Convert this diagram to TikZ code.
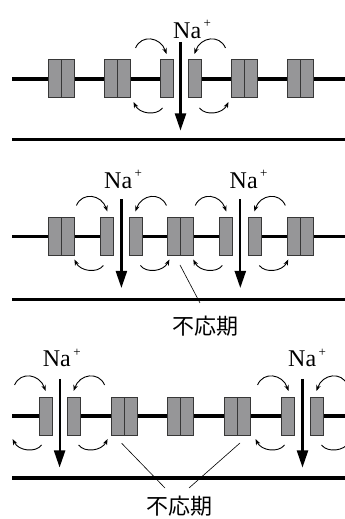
\documentclass[tikz,border=0pt]{standalone}
\usepackage{fontspec}
\setmainfont{Liberation Serif}
\newfontfamily\jpfont{Noto Sans CJK JP}
\usetikzlibrary{arrows.meta}

\definecolor{chanfill}{RGB}{150,150,152}
\definecolor{chanedge}{RGB}{55,55,55}

\tikzset{
  x=1pt, y=1pt,
  axon/.style={line width=3.6pt, black},
  membrane/.style={line width=3.6pt, black},
  chan/.style={draw=chanedge, fill=chanfill, line width=0.8pt,
    minimum width=13pt, minimum height=38pt, inner sep=0pt},
  hop/.style={line width=0.9pt, -{Stealth[length=6pt,width=4.5pt]}},
  flow/.style={line width=2.2pt, -{Triangle[length=17pt,width=11pt]}},
  pointer/.style={line width=0.6pt},
  ion/.style={anchor=base west, inner sep=0pt, font=\fontsize{24}{24}\selectfont},
  refr/.style={inner sep=0pt, font=\jpfont\fontsize{22}{22}\selectfont},
  % the fibre is broken where a gate is open
  opening/.pic={
    \fill[white] (-10,-2.6) rectangle (10,2.6);
  },
  % sodium influx at an open gate, with local current loops to either side
  gate/.pic={
    \draw[hop] (-45,31) .. controls +(6,14) and +(-6,17) .. (-14,25);
    \draw[hop] (45,31) .. controls +(-6,14) and +(6,17) .. (14,25);
    \draw[hop] (-18,-29) .. controls +(-6,-8) and +(6,-12) .. (-47,-23);
    \draw[hop] (19,-29) .. controls +(6,-8) and +(-6,-12) .. (48,-23);
    \draw[flow] (0,37) -- (0,-51.5);
  }
}

\newcommand{\naplus}{Na\kern2.5pt\raisebox{10.5pt}{\fontsize{13}{13}\selectfont+}}

\begin{document}
\begin{tikzpicture}
\clip (0,0) rectangle (345,519);
\fill[white] (0,0) rectangle (345,519);

% ---------- top: single active site ----------
\coordinate (a1w) at (12,440);
\coordinate (a1e) at (345,440);
\coordinate (m1w) at (12,379.5);
\coordinate (m1e) at (345,379.5);
\draw[axon] (a1w) -- (a1e);
\draw[membrane] (m1w) -- (m1e);
\pic at (180.5,440) {opening};
\node[chan] (t1a) at (54.5,441) {};
\node[chan] (t1b) at (67.5,441) {};
\node[chan] (t2a) at (110.5,441) {};
\node[chan] (t2b) at (123.5,441) {};
\node[chan] (t3) at (166.5,441) {};
\node[chan] (t4) at (194.5,441) {};
\node[chan] (t5a) at (238,441) {};
\node[chan] (t5b) at (251,441) {};
\node[chan] (t6a) at (293.5,441) {};
\node[chan] (t6b) at (306.5,441) {};
\pic at (180.5,440) {gate};
\node[ion] (na1) at (173,480.7) {\naplus};

% ---------- middle: two sites moving apart ----------
\coordinate (a2w) at (12,282.5);
\coordinate (a2e) at (345,282.5);
\coordinate (m2w) at (12,219.5);
\coordinate (m2e) at (345,219.5);
\draw[axon] (a2w) -- (a2e);
\draw[membrane] (m2w) -- (m2e);
\pic at (121.4,282.5) {opening};
\pic at (240.3,282.5) {opening};
\node[chan] (u1a) at (54.5,282.5) {};
\node[chan] (u1b) at (67.5,282.5) {};
\node[chan] (u2) at (106.7,282.5) {};
\node[chan] (u3) at (136,282.5) {};
\node[chan] (u4a) at (174.3,282.5) {};
\node[chan] (u4b) at (187.3,282.5) {};
\node[chan] (u5) at (225.8,282.5) {};
\node[chan] (u6) at (254.7,282.5) {};
\node[chan] (u7a) at (293.8,282.5) {};
\node[chan] (u7b) at (306.8,282.5) {};
\pic at (121.4,282.5) {gate};
\pic at (240.3,282.5) {gate};
\node[ion] (na2) at (104,330.7) {\naplus};
\node[ion] (na3) at (229.5,330.7) {\naplus};
\node[refr] (rf1) at (205,193) {不応期};
\coordinate (p1s) at (180,254);
\coordinate (p1e) at (200,216);
\draw[pointer] (p1s) -- (p1e);

% ---------- bottom: sites near the ends ----------
\coordinate (a3w) at (12,103);
\coordinate (a3e) at (345,103);
\coordinate (m3w) at (12,40.7);
\coordinate (m3e) at (345,40.7);
\draw[axon] (a3w) -- (a3e);
\draw[membrane] (m3w) -- (m3e);
\pic at (59.6,103) {opening};
\pic at (302.5,103) {opening};
\node[chan] (v1) at (45.5,103) {};
\node[chan] (v2) at (73.8,103) {};
\node[chan] (v3a) at (117.7,103) {};
\node[chan] (v3b) at (130.7,103) {};
\node[chan] (v4a) at (174.3,103) {};
\node[chan] (v4b) at (187.3,103) {};
\node[chan] (v5a) at (231,103) {};
\node[chan] (v5b) at (244,103) {};
\node[chan] (v6) at (288,103) {};
\node[chan] (v7) at (317,103) {};
\pic at (59.6,103) {gate};
\pic at (302.5,103) {gate};
\node[ion] (na4) at (42.7,152.3) {\naplus};
\node[ion] (na5) at (288,152.3) {\naplus};
\node[refr] (rf2) at (179,13) {不応期};
\coordinate (p2s) at (121.7,75.7);
\coordinate (p2e) at (165,31);
\coordinate (p3s) at (240,76);
\coordinate (p3e) at (189,31);
\draw[pointer] (p2s) -- (p2e);
\draw[pointer] (p3s) -- (p3e);
\end{tikzpicture}
\end{document}
